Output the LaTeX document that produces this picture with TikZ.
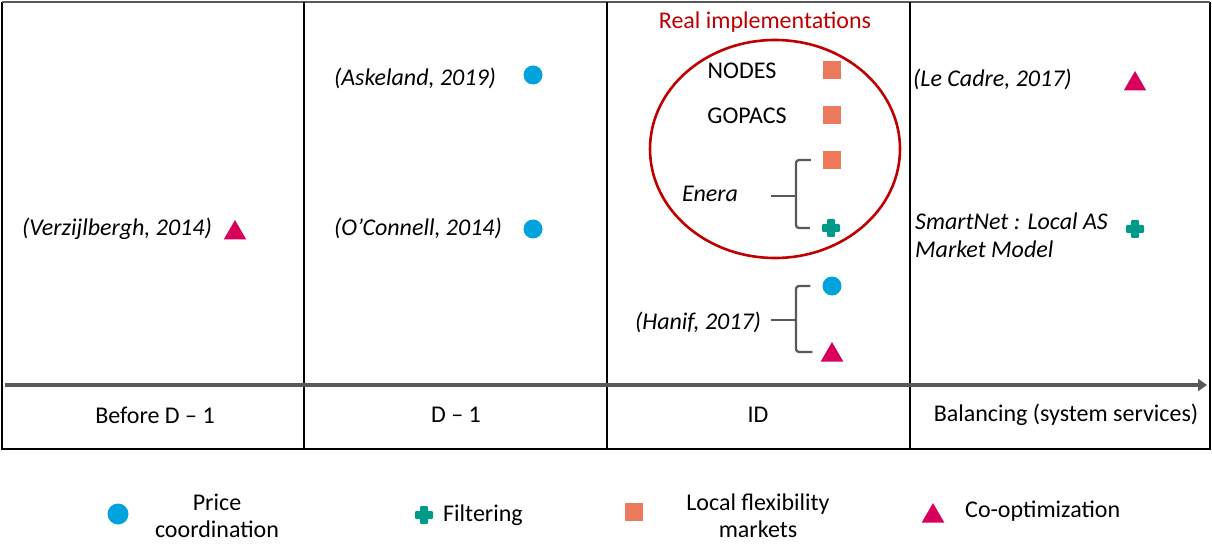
\documentclass[tikz,border=0pt]{standalone}
\usepackage{fontspec}
\setmainfont{Carlito}
\usetikzlibrary{shapes.geometric,arrows.meta,calc}
\definecolor{pcblue}{RGB}{0,163,221}
\definecolor{fteal}{RGB}{0,155,136}
\definecolor{lsalmon}{RGB}{238,122,94}
\definecolor{cocrim}{RGB}{216,0,90}
\definecolor{realred}{RGB}{192,0,0}
\definecolor{axisgray}{RGB}{89,89,89}
\tikzset{
  txt/.style={font=\fontsize{24}{28}\selectfont, inner sep=0pt},
  ref/.style={txt, font=\fontsize{24}{28}\selectfont\itshape},
  circmark/.style={circle, fill=pcblue, minimum size=19pt, inner sep=0pt},
  sqmark/.style={rectangle, fill=lsalmon, minimum size=18pt, inner sep=0pt},
  trimark/.style={regular polygon, regular polygon sides=3, fill=cocrim, minimum size=26pt, inner sep=0pt},
  plusmark/.style={rectangle, minimum size=18pt, inner sep=0pt,
    path picture={
      \fill[fteal, rounded corners=1.2pt] ($(path picture bounding box.center)+(-9pt,-4pt)$) rectangle ++(18pt,8pt);
      \fill[fteal, rounded corners=1.2pt] ($(path picture bounding box.center)+(-4pt,-9pt)$) rectangle ++(8pt,18pt);
    }},
  bracket/.style={draw=axisgray, line width=2.3pt, rounded corners=3pt},
  frame/.style={draw=black, line width=1.2pt},
}
\begin{document}
\begin{tikzpicture}[x=1pt,y=-1pt]
\useasboundingbox (0,0) rectangle (1212,545);
% table frame
\draw[frame] (2,2) -- (2,449) -- (1210,449) -- (1210,2);
\draw[draw=axisgray, line width=1.5pt] (2,2) -- (1210,2);
\draw[frame] (304,2) -- (304,449);
\draw[frame] (607,2) -- (607,449);
\draw[frame] (910,2) -- (910,449);
\draw[line width=2.6pt] (304,198) -- (304,258);
\draw[line width=2.6pt] (607,198) -- (607,258);
% time axis
\coordinate (axs) at (5,385);
\coordinate (axe) at (1207,385);
\draw[draw=axisgray, line width=4pt, -{Triangle[length=9pt,width=12pt]}] (axs) -- (axe);
% column labels
\node[txt] (l1) at (155,415) {Before D – 1};
\node[txt] (l2) at (456,415) {D – 1};
\node[txt] (l3) at (758,415) {ID};
\node[txt] (l4) at (1066,415) {Balancing (system services)};
% column 1
\node[ref] (verz) at (117,229) {(Verzijlbergh, 2014)};
\node[trimark] (t1) at (235,233) {};
% column 2
\node[ref] (ask) at (415,78) {(Askeland, 2019)};
\node[circmark] (c1) at (533,75) {};
\node[ref] (oc) at (418,228) {(O’Connell, 2014)};
\node[circmark] (c2) at (533,229) {};
% column 3
\node[txt, text=realred] (real) at (765,22) {Real implementations};
\node[draw=realred, line width=2.6pt, ellipse, minimum width=250pt, minimum height=218pt, inner sep=0pt] (ell) at (775,149) {};
\node[txt] (nodes) at (742,71) {NODES};
\node[sqmark] (s1) at (832,70) {};
\node[txt] (gop) at (747,116) {GOPACS};
\node[sqmark] (s2) at (832,115) {};
\node[ref] (enera) at (710,194) {Enera};
\node[sqmark] (s3) at (832,160) {};
\node[plusmark] (p1) at (831,228) {};
\coordinate (enstem) at (771,196);
\coordinate (enj) at (796,196);
\draw[bracket] (enstem) -- (enj);
\draw[bracket] ([xshift=-12pt]s3.west) -| (enj) |- ([xshift=-12pt]p1.west);
\node[circmark] (c3) at (832,286) {};
\node[ref] (han) at (698,322) {(Hanif, 2017)};
\node[trimark] (t2) at (832,355) {};
\coordinate (hastem) at (771,320);
\coordinate (haj) at (796,320);
\draw[bracket] (hastem) -- (haj);
\draw[bracket] ([xshift=-12pt]c3.west) -| (haj) |- ([xshift=-12pt]t2.west|-352,352);
% column 4
\node[ref, anchor=west] (lec) at (913,79) {(Le Cadre, 2017)};
\node[trimark] (t3) at (1135,84) {};
\node[ref, anchor=north west, align=left] (smart) at (915,213) {SmartNet : Local AS\\Market Model};
\node[plusmark] (p2) at (1135,229) {};
% legend
\node[circle, fill=pcblue, minimum width=19pt, minimum height=21pt, inner sep=0pt] (lc) at (118,514) {};
\node[txt, align=center, font=\fontsize{24}{27}\selectfont] (lct) at (217,516) {Price\\coordination};
\node[plusmark] (lp) at (424,515) {};
\node[txt, anchor=west] (lpt) at (443,515) {Filtering};
\node[sqmark] (ls) at (634,512) {};
\node[txt, align=center, font=\fontsize{24}{27}\selectfont] (lst) at (758,516) {Local flexibility\\markets};
\node[trimark] (lt) at (933,516) {};
\node[txt, anchor=west] (ltt) at (965,511) {Co-optimization};
\end{tikzpicture}
\end{document}
